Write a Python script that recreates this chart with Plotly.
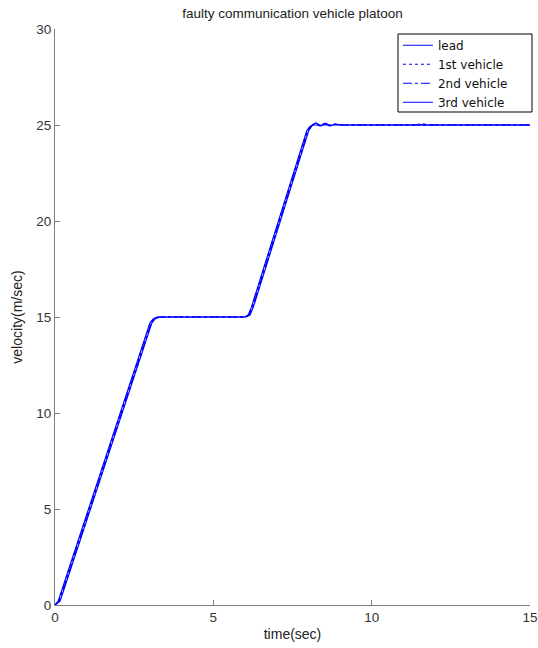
import plotly.graph_objects as go

# lead vehicle
t_lead = [0, 0.1, 0.3, 3.0, 3.1, 3.2, 3.35, 6.0, 6.1, 6.2, 7.95, 8.05, 8.15, 15]
v_lead = [0, 0.2, 1.2, 14.7, 14.9, 14.98, 15.0, 15.0, 15.1, 15.5, 24.7, 24.92, 25.0, 25.0]

# 1st vehicle
t_v1 = [0, 0.12, 0.32, 3.02, 3.12, 3.22, 3.38, 6.0, 6.12, 6.22, 7.97, 8.08, 8.2, 8.35, 8.5, 8.65, 8.8, 9.0, 15]
v_v1 = [0, 0.2, 1.2, 14.7, 14.9, 14.98, 15.0, 15.0, 15.1, 15.5, 24.7, 24.95, 25.08, 24.96, 25.06, 24.97, 25.03, 25.0, 25.0]

# 2nd vehicle
t_v2 = [0, 0.14, 0.34, 3.04, 3.14, 3.24, 3.4, 6.0, 6.14, 6.24, 7.99, 8.1, 8.22, 8.37, 8.52, 8.67, 8.82, 9.05, 11.4, 11.5, 11.6, 11.7, 15]
v_v2 = [0, 0.2, 1.2, 14.7, 14.9, 14.98, 15.0, 15.0, 15.1, 15.5, 24.7, 24.96, 25.1, 24.95, 25.08, 24.96, 25.04, 25.0, 25.0, 25.05, 24.98, 25.0, 25.0]

# 3rd vehicle
t_v3 = [0, 0.16, 0.36, 3.06, 3.16, 3.26, 3.42, 6.02, 6.16, 6.26, 8.01, 8.12, 8.24, 8.4, 8.55, 8.7, 8.85, 9.1, 11.55, 11.65, 11.75, 15]
v_v3 = [0, 0.2, 1.2, 14.7, 14.9, 14.98, 15.0, 15.0, 15.1, 15.5, 24.7, 24.97, 25.12, 24.94, 25.09, 24.95, 25.05, 25.0, 25.0, 25.06, 25.0, 25.0]

x_ticks = [0, 5, 10, 15]
y_ticks = [0, 5, 10, 15, 20, 25, 30]

fig = go.Figure()
fig.add_trace(go.Scatter(x=t_lead, y=v_lead, mode="lines", name="lead",
                         line=dict(color="#0000ff", width=1.2, dash="solid")))
fig.add_trace(go.Scatter(x=t_v1, y=v_v1, mode="lines", name="1st vehicle",
                         line=dict(color="#0000ff", width=1.2, dash="dot")))
fig.add_trace(go.Scatter(x=t_v2, y=v_v2, mode="lines", name="2nd vehicle",
                         line=dict(color="#0000ff", width=1.2, dash="dashdot")))
fig.add_trace(go.Scatter(x=t_v3, y=v_v3, mode="lines", name="3rd vehicle",
                         line=dict(color="#0000ff", width=1.2, dash="solid")))

axis_common = dict(showgrid=False, zeroline=False, showline=True, linecolor="#808080",
                   linewidth=1, ticks="inside", ticklen=5, tickcolor="#808080",
                   automargin=False,
                   tickfont=dict(size=13.5, color="#333333"))

# legend frame (MATLAB style box)
fig.add_shape(type="rect", xref="paper", yref="paper",
              x0=0.7221, x1=1.0042, y0=0.8559, y1=0.9913,
              line=dict(color="black", width=1), fillcolor="white", layer="above")

fig.update_layout(
    width=538, height=648,
    margin=dict(l=55, r=8, t=29, b=43),
    paper_bgcolor="white", plot_bgcolor="white",
    font=dict(family="Liberation Sans, Arial, sans-serif", size=14, color="#222222"),
    title=dict(text="faulty communication vehicle platoon", x=(55 + 530) / 2 / 538,
               xanchor="center", y=1 - 13 / 648, yanchor="middle",
               font=dict(size=13.5, color="#222222")),
    xaxis=dict(range=[0, 15], tickvals=x_ticks,
               title=dict(text="time(sec)", standoff=4, font=dict(size=14)), **axis_common),
    yaxis=dict(range=[0, 30], tickvals=y_ticks,
               title=dict(text="velocity(m/sec)", standoff=10, font=dict(size=14)), **axis_common),
    legend=dict(x=0.722, y=0.997, xanchor="left", yanchor="top",
                bgcolor="rgba(0,0,0,0)", borderwidth=0,
                itemwidth=30,
                font=dict(family="DejaVu Sans, sans-serif", size=12, color="#111111"),
                tracegroupgap=0),
    showlegend=True,
)

fig.write_html("out.html", config={"displayModeBar": False},
               post_script="document.body.style.margin='0';document.body.style.overflow='hidden';")
